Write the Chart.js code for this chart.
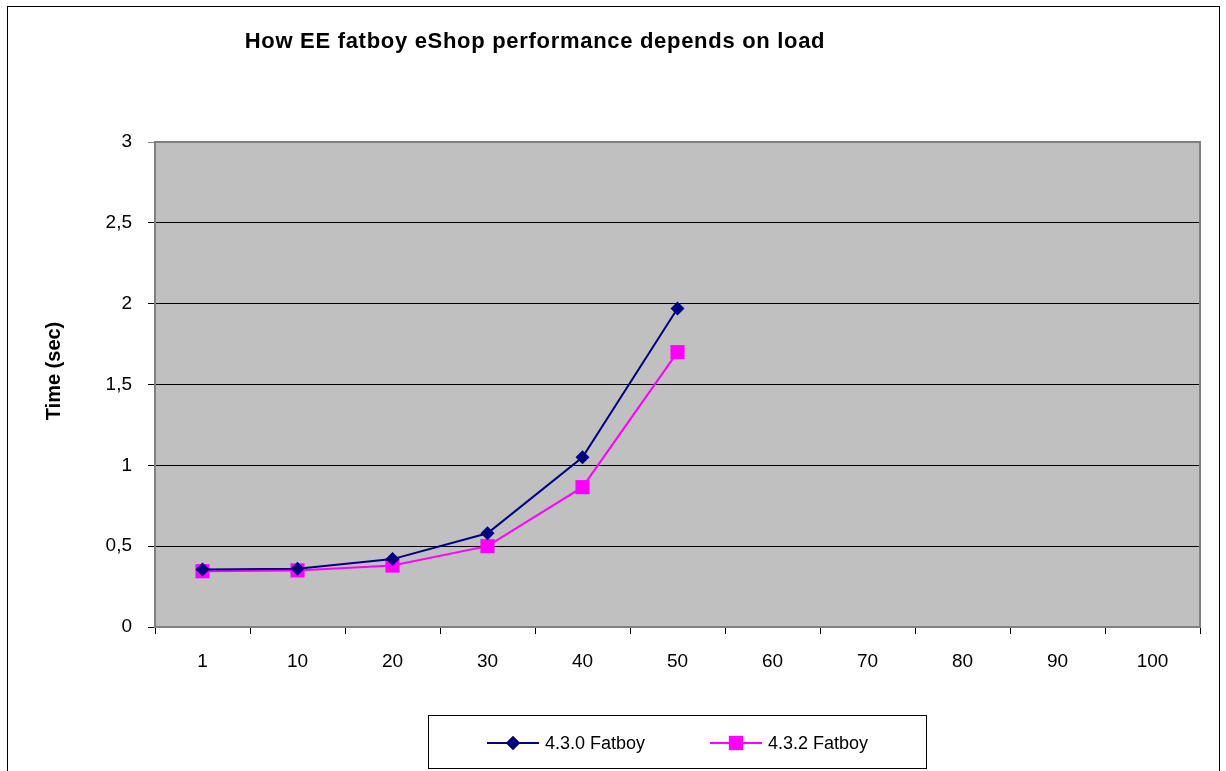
<!DOCTYPE html>
<html>
<head>
<meta charset="utf-8">
<script src="https://cdn.jsdelivr.net/npm/chart.js@4/dist/chart.umd.min.js"></script>
<style>
  html, body { margin: 0; padding: 0; background: #fff; }
  canvas { display: block; }
</style>
</head>
<body>
<canvas id="chart" width="1226" height="771"></canvas>
<script>
// Concurrent users (category axis)
const loadLevels = ['1', '10', '20', '30', '40', '50', '60', '70', '80', '90', '100'];
// Response time in seconds per release
const fatboy430 = [0.355, 0.36, 0.42, 0.58, 1.05, 1.97, null, null, null, null, null];
const fatboy432 = [0.345, 0.35, 0.38, 0.50, 0.865, 1.70, null, null, null, null, null];
const seriesNames = ['4.3.0 Fatboy', '4.3.2 Fatboy'];
const chartTitle = 'How EE fatboy eShop performance depends on load';
const yAxisTitle = 'Time (sec)';

const FONT = '"Liberation Sans", Arial, sans-serif';

// Frame, titles, grey plot area and boxed legend
const decorations = {
  id: 'decorations',
  beforeDraw(chart) {
    const { ctx, chartArea: a } = chart;
    ctx.save();
    ctx.fillStyle = '#ffffff';
    ctx.fillRect(0, 0, chart.width, chart.height);
    ctx.strokeStyle = '#000000';
    ctx.lineWidth = 1;
    ctx.strokeRect(7.5, 6.5, 1212, 780);
    ctx.fillStyle = '#c0c0c0';
    ctx.fillRect(a.left, a.top, a.right - a.left, a.bottom - a.top);

    ctx.fillStyle = '#000000';
    ctx.font = 'bold 22px ' + FONT;
    ctx.letterSpacing = '0.7px';
    ctx.textAlign = 'center';
    ctx.textBaseline = 'alphabetic';
    ctx.fillText(chartTitle, 535, 48);
    ctx.letterSpacing = '0px';

    ctx.translate(54, 371);
    ctx.rotate(-Math.PI / 2);
    ctx.font = 'bold 20px ' + FONT;
    ctx.textBaseline = 'middle';
    ctx.fillText(yAxisTitle, 0, 0);
    ctx.restore();
  },
  beforeDatasetsDraw(chart) {
    const { ctx, chartArea: a } = chart;
    ctx.save();
    ctx.strokeStyle = '#808080';
    ctx.lineWidth = 2;
    ctx.strokeRect(a.left, a.top, a.right - a.left, a.bottom - a.top);
    ctx.restore();
  },
  afterDraw(chart) {
    const { ctx } = chart;
    ctx.save();
    ctx.strokeStyle = '#000000';
    ctx.lineWidth = 1;
    ctx.strokeRect(428.5, 715.5, 498, 53);
    const starts = [487, 710];
    ctx.font = '18px ' + FONT;
    ctx.textBaseline = 'middle';
    ctx.textAlign = 'left';
    chart.data.datasets.forEach((ds, i) => {
      const x0 = starts[i], y = 743;
      ctx.strokeStyle = ds.borderColor;
      ctx.lineWidth = 2;
      ctx.beginPath();
      ctx.moveTo(x0, y);
      ctx.lineTo(x0 + 52, y);
      ctx.stroke();
      Chart.helpers.drawPoint(ctx, {
        pointStyle: ds.pointStyle,
        radius: ds.pointRadius,
        borderWidth: 0
      }, x0 + 26, y);
      ctx.fillStyle = ds.pointBackgroundColor;
      ctx.fill();
      ctx.fillStyle = '#000000';
      ctx.fillText(ds.label, x0 + 58, y + 1);
    });
    ctx.restore();
  }
};

new Chart(document.getElementById('chart'), {
  type: 'line',
  data: {
    labels: loadLevels,
    datasets: [
      {
        label: seriesNames[0],
        data: fatboy430,
        borderColor: '#000080',
        backgroundColor: '#000080',
        pointBackgroundColor: '#000080',
        pointBorderColor: '#000080',
        pointStyle: 'rectRot',
        pointRadius: 7,
        pointBorderWidth: 0,
        borderWidth: 2,
        tension: 0
      },
      {
        label: seriesNames[1],
        data: fatboy432,
        borderColor: '#ff00ff',
        backgroundColor: '#ff00ff',
        pointBackgroundColor: '#ff00ff',
        pointBorderColor: '#ff00ff',
        pointStyle: 'rect',
        pointRadius: 10,
        pointBorderWidth: 0,
        borderWidth: 2,
        tension: 0
      }
    ]
  },
  options: {
    responsive: false,
    animation: false,
    devicePixelRatio: 1,
    layout: { padding: { left: 0, top: 142, right: 26, bottom: 104 } },
    plugins: {
      legend: { display: false },
      title: { display: false },
      tooltip: { enabled: false }
    },
    scales: {
      x: {
        type: 'category',
        offset: true,
        afterFit(scale) { scale.height = 40; },
        grid: {
          offset: true,
          drawOnChartArea: false,
          drawTicks: true,
          tickLength: 7,
          color: '#000000'
        },
        border: { display: true, color: '#808080', width: 2 },
        ticks: {
          color: '#000000',
          font: { family: FONT, size: 19 },
          padding: 16,
          maxRotation: 0
        }
      },
      y: {
        min: 0,
        max: 3,
        afterFit(scale) { scale.width = 155; },
        grid: {
          color: (c) => (c.tick && c.tick.value === 3 ? '#808080' : '#000000'),
          lineWidth: 1,
          drawTicks: true,
          tickLength: 7
        },
        border: { display: true, color: '#808080', width: 2 },
        ticks: {
          stepSize: 0.5,
          color: '#000000',
          padding: 16,
          font: { family: FONT, size: 19 },
          callback: (v) => String(v).replace('.', ',')
        }
      }
    }
  },
  plugins: [decorations]
});
</script>
</body>
</html>
